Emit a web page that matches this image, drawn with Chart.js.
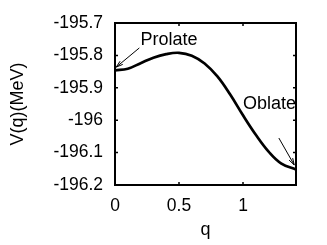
<!DOCTYPE html>
<html>
<head>
<meta charset="utf-8">
<script src="https://cdn.jsdelivr.net/npm/chart.js@4"></script>
<style>
  html, body { margin: 0; padding: 0; background: #fff; }
  #wrap { width: 327px; height: 245px; }
</style>
</head>
<body>
<div id="wrap"><canvas id="chartPot"></canvas></div>
<script>
// deformation q and potential V(q) in MeV
const qValues = [0, 0.1, 0.2, 0.3, 0.4, 0.5, 0.6, 0.7, 0.8, 0.9, 1.0, 1.1, 1.2, 1.3, 1.414];
const vValues = [-195.846, -195.841, -195.824, -195.807, -195.796, -195.792, -195.801, -195.825,
                 -195.865, -195.921, -195.985, -196.045, -196.097, -196.134, -196.152];
const xTicks = [0, 0.5, 1];
const yTicks = [-196.2, -196.1, -196.0, -195.9, -195.8, -195.7];

// text labels with arrows, in data coordinates
const notes = [
  { text: 'Prolate', at: [0.20, -195.752], from: [0.19, -195.777], to: [0.01, -195.836] },
  { text: 'Oblate',  at: [1.00, -195.950], from: [1.28, -196.055], to: [1.40, -196.138] },
];

const FONT = "'Liberation Sans', Arial, sans-serif";

const framePlugin = {
  id: 'frame',
  afterDatasetsDraw(chart) {
    const { ctx, chartArea: a, scales: { x, y } } = chart;
    ctx.save();
    ctx.strokeStyle = '#000';
    ctx.lineWidth = 2;
    ctx.strokeRect(a.left, a.top, a.right - a.left, a.bottom - a.top);

    // small inward ticks on all four sides
    ctx.lineWidth = 1.5;
    ctx.beginPath();
    xTicks.forEach(v => {
      const px = x.getPixelForValue(v);
      ctx.moveTo(px, a.bottom); ctx.lineTo(px, a.bottom - 3);
      ctx.moveTo(px, a.top);    ctx.lineTo(px, a.top + 3);
    });
    yTicks.forEach(v => {
      const py = y.getPixelForValue(v);
      ctx.moveTo(a.left, py);  ctx.lineTo(a.left + 3, py);
      ctx.moveTo(a.right, py); ctx.lineTo(a.right - 3, py);
    });
    ctx.stroke();

    // annotations
    ctx.fillStyle = '#000';
    ctx.font = '18px ' + FONT;
    ctx.textBaseline = 'middle';
    ctx.textAlign = 'left';
    ctx.lineWidth = 1;
    notes.forEach(n => {
      ctx.fillText(n.text, x.getPixelForValue(n.at[0]), y.getPixelForValue(n.at[1]));
      const x0 = x.getPixelForValue(n.from[0]), y0 = y.getPixelForValue(n.from[1]);
      const x1 = x.getPixelForValue(n.to[0]),   y1 = y.getPixelForValue(n.to[1]);
      ctx.beginPath();
      ctx.moveTo(x0, y0); ctx.lineTo(x1, y1);
      ctx.stroke();
      const ang = Math.atan2(y1 - y0, x1 - x0), h = 7;
      ctx.beginPath();
      ctx.moveTo(x1 - h * Math.cos(ang - 0.3), y1 - h * Math.sin(ang - 0.3));
      ctx.lineTo(x1, y1);
      ctx.lineTo(x1 - h * Math.cos(ang + 0.3), y1 - h * Math.sin(ang + 0.3));
      ctx.stroke();
    });
    ctx.restore();
  }
};

new Chart(document.getElementById('chartPot').getContext('2d'), {
  type: 'line',
  data: {
    datasets: [{
      data: qValues.map((q, i) => ({ x: q, y: vValues[i] })),
      borderColor: '#000',
      borderWidth: 2.7,
      pointRadius: 0,
      fill: false,
      tension: 0.4,
      clip: false
    }]
  },
  options: {
    responsive: true,
    maintainAspectRatio: false,
    animation: false,
    events: [],
    layout: { padding: { left: 0, right: 31, top: 23, bottom: 0 } },
    plugins: { legend: { display: false }, tooltip: { enabled: false } },
    scales: {
      x: {
        type: 'linear',
        min: 0, max: 1.414,
        afterBuildTicks: s => { s.ticks = xTicks.map(v => ({ value: v })); },
        afterFit: s => { s.height = 60; },
        grid: { display: false, drawTicks: false },
        border: { display: false },
        ticks: {
          color: '#000', padding: 11,
          font: { family: FONT, size: 17.5 },
          maxRotation: 0,
          callback: v => String(+v.toFixed(1))
        },
        title: {
          display: true, text: 'q', color: '#000',
          font: { family: FONT, size: 18 },
          padding: { top: 0, bottom: 4 }
        }
      },
      y: {
        type: 'linear',
        min: -196.2, max: -195.7,
        afterBuildTicks: s => { s.ticks = yTicks.map(v => ({ value: v })); },
        afterFit: s => { s.width = 115; },
        grid: { display: false, drawTicks: false },
        border: { display: false },
        ticks: {
          color: '#000', padding: 12,
          font: { family: FONT, size: 17.5 },
          callback: v => String(+v.toFixed(1))
        },
        title: {
          display: true, text: 'V(q)(MeV)', color: '#000',
          font: { family: FONT, size: 18 },
          padding: { top: 7, bottom: 0 }
        }
      }
    }
  },
  plugins: [framePlugin]
});
</script>
</body>
</html>
